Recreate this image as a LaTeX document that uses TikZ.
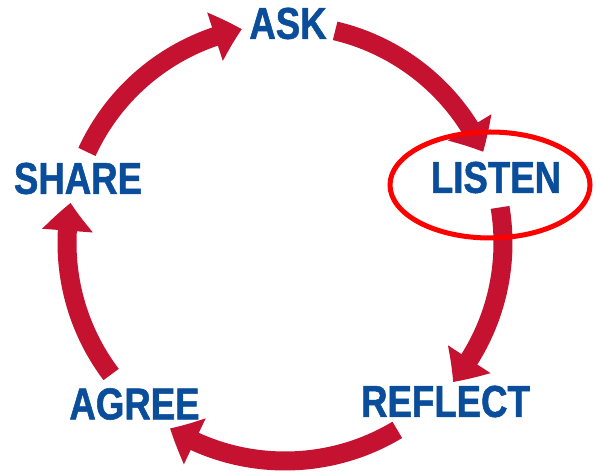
\documentclass[tikz,border=0pt]{standalone}
\usepackage{fontspec}
\usepackage{tikz}
\usetikzlibrary{arrows.meta}
\usetikzlibrary{bending}
\newfontfamily\stagefont{Liberation Sans}[FakeStretch=0.82, FakeBold=1.2]
\definecolor{cyclered}{RGB}{196,18,48}
\definecolor{stageblue}{RGB}{10,78,155}

\begin{document}
\begin{tikzpicture}[
	stage/.style={font=\stagefont\bfseries\fontsize{25.4}{30}\selectfont, text=stageblue, inner sep=0pt},
	flow/.style={draw=cyclered, line width=0.38cm, -{Triangle[length=0.56cm, width=0.98cm, bend]}}
	]
	\useasboundingbox (0,0) rectangle (11.92,9.44);
	\coordinate (c) at (5.70,4.58);

	\node[stage] (ask) at (5.76,8.97) {ASK};
	\node[stage] (listen) at (9.92,5.89) {LISTEN};
	\node[stage] (reflect) at (8.91,1.41) {REFLECT};
	\node[stage] (agree) at (2.69,1.36) {AGREE};
	\node[stage] (share) at (1.56,5.87) {SHARE};

	\draw[flow] (c) ++(76.7:4.36) arc[start angle=76.7, end angle=24.7, radius=4.36];
	\draw[flow] (c) ++(9.4:4.36) arc[start angle=9.4, end angle=-39.6, radius=4.36];
	\draw[flow] (c) ++(-59:4.36) arc[start angle=-59, end angle=-121.8, radius=4.36];
	\draw[flow] (c) ++(-142.9:4.36) arc[start angle=-142.9, end angle=-190.6, radius=4.36];
	\draw[flow] (c) ++(155.3:4.36) arc[start angle=155.3, end angle=101.4, radius=4.36];

%	\draw[red] (listen) circle (2);
	\draw[red, line width=2.85pt] ([xshift=-0.12cm, yshift=-0.15cm]listen.center) ellipse [x radius=2.0, y radius=1.06];

\end{tikzpicture}
\end{document}
